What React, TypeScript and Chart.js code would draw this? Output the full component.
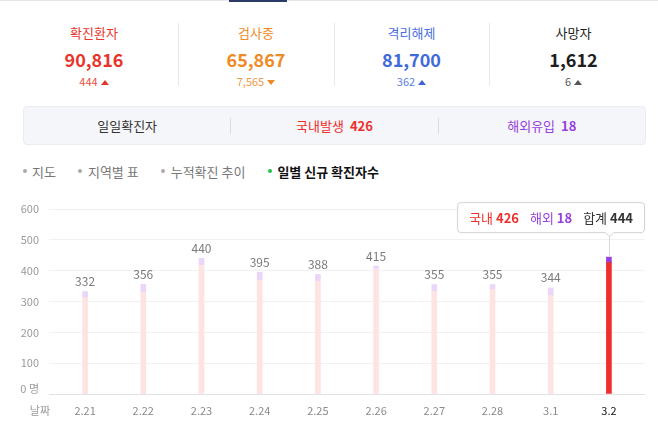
import React, { useEffect, useRef } from 'react';
import { Chart, registerables } from 'chart.js';
Chart.register(...registerables);

const KR = "'Noto Sans CJK KR', 'Noto Sans', sans-serif";

// ---- data ----
const statTitles = ['확진환자', '검사중', '격리해제', '사망자'];
const statValues = ['90,816', '65,867', '81,700', '1,612'];
const statDeltas = ['444', '7,565', '362', '6'];
const statUp = [true, false, true, true];

const dailyLabel = '일일확진자';
const domesticLabel = '국내발생';
const domesticToday = 426;
const overseasLabel = '해외유입';
const overseasToday = 18;

const navItems = ['지도', '지역별 표', '누적확진 추이', '일별 신규 확진자수'];

const dates = ['2.21', '2.22', '2.23', '2.24', '2.25', '2.26', '2.27', '2.28', '3.1', '3.2'];
const domestic = [313, 330, 417, 369, 366, 406, 333, 339, 320, 426];
const overseas = [19, 26, 23, 26, 22, 9, 22, 16, 24, 18];
const yMax = 600;
const yStep = 100;
const yUnit = '명';
const xAxisName = '날짜';
const tipNames = ['국내', '해외', '합계'];

// ---- styles ----
const RED = '#ee2f2c';
const PURPLE = '#9840dc';
const statColors = ['#e8352c', '#ef8a26', '#4169dc', '#1e1e1e'];
const statTitleColors = ['#e8352c', '#ef8a26', '#4a6fe0', '#222222'];
const deltaColors = ['#e8503f', '#f09a48', '#5b7fe2', '#555555'];
const triColors = ['#e0392b', '#ef8a26', '#3e64d8', '#555555'];

const lastIdx = dates.length - 1;

const labelPlugin = {
  id: 'totals',
  afterDatasetsDraw(chart: any) {
    const ctx = chart.ctx;
    const top = chart.getDatasetMeta(1);
    ctx.save();
    ctx.font = `12px ${KR}`;
    ctx.fillStyle = '#7a7a7a';
    ctx.textAlign = 'center';
    ctx.textBaseline = 'middle';
    top.data.forEach((el: any, i: number) => {
      if (i === lastIdx) return;
      ctx.fillText(String(domestic[i] + overseas[i]), el.x, el.y - 10);
    });
    // x axis name
    const xs = chart.scales.x;
    ctx.font = `11px ${KR}`;
    ctx.fillStyle = '#9a9a9a';
    ctx.textAlign = 'right';
    ctx.fillText(xAxisName, chart.chartArea.left + 1, xs.top + 10 + 6.6);
    ctx.restore();
  },
  afterDraw(chart: any) {
    const ctx = chart.ctx;
    const el = chart.getDatasetMeta(1).data[lastIdx];
    if (!el) return;
    const area = chart.chartArea;
    const parts = [
      { name: tipNames[0], val: String(domestic[lastIdx]), color: RED },
      { name: tipNames[1], val: String(overseas[lastIdx]), color: PURPLE },
      { name: tipNames[2], val: String(domestic[lastIdx] + overseas[lastIdx]), color: '#333333' },
    ];
    ctx.save();
    const nameFont = `13px ${KR}`;
    const valFont = `bold 13px ${KR}`;
    const gap = 11;
    const pad = 12;
    let w = 0;
    const widths = parts.map((p) => {
      ctx.font = nameFont;
      const a = ctx.measureText(p.name + ' ').width;
      ctx.font = valFont;
      const b = ctx.measureText(p.val).width;
      return [a, b];
    });
    widths.forEach(([a, b], i) => { w += a + b + (i ? gap : 0); });
    const boxW = w + pad * 2;
    const boxH = 31;
    const right = area.right;
    const left = right - boxW;
    const bottom = el.y - 24;
    const topY = bottom - boxH;
    // connecting line
    ctx.strokeStyle = '#d8d8e0';
    ctx.lineWidth = 1;
    ctx.beginPath();
    ctx.moveTo(Math.round(el.x) + 0.5, bottom + 3);
    ctx.lineTo(Math.round(el.x) + 0.5, el.y);
    ctx.stroke();
    // box with caret
    const r = 4;
    const cx = Math.round(el.x) + 0.5;
    ctx.beginPath();
    ctx.moveTo(left + r, topY + 0.5);
    ctx.lineTo(right - r, topY + 0.5);
    ctx.quadraticCurveTo(right - 0.5, topY + 0.5, right - 0.5, topY + r);
    ctx.lineTo(right - 0.5, bottom - r);
    ctx.quadraticCurveTo(right - 0.5, bottom - 0.5, right - r, bottom - 0.5);
    ctx.lineTo(cx + 4, bottom - 0.5);
    ctx.lineTo(cx, bottom + 3.5);
    ctx.lineTo(cx - 4, bottom - 0.5);
    ctx.lineTo(left + r, bottom - 0.5);
    ctx.quadraticCurveTo(left + 0.5, bottom - 0.5, left + 0.5, bottom - r);
    ctx.lineTo(left + 0.5, topY + r);
    ctx.quadraticCurveTo(left + 0.5, topY + 0.5, left + r, topY + 0.5);
    ctx.closePath();
    ctx.fillStyle = '#ffffff';
    ctx.shadowColor = 'rgba(0,0,0,0.06)';
    ctx.shadowBlur = 3;
    ctx.fill();
    ctx.shadowColor = 'transparent';
    ctx.strokeStyle = '#d4d4d4';
    ctx.stroke();
    // text
    let x = left + pad;
    const ty = (topY + bottom) / 2 + 0.5;
    ctx.textBaseline = 'middle';
    ctx.textAlign = 'left';
    parts.forEach((p, i) => {
      ctx.fillStyle = p.color;
      ctx.font = nameFont;
      ctx.fillText(p.name + ' ', x, ty);
      x += widths[i][0];
      ctx.font = valFont;
      ctx.fillText(p.val, x, ty);
      x += widths[i][1] + gap;
    });
    ctx.restore();
  },
};

function Tri({ up, color }: { up: boolean; color: string }) {
  return (
    <span
      style={{
        display: 'inline-block',
        width: 0,
        height: 0,
        borderLeft: '4px solid transparent',
        borderRight: '4px solid transparent',
        [up ? 'borderBottom' : 'borderTop']: `5px solid ${color}`,
        marginLeft: 3,
        verticalAlign: 'middle',
        position: 'relative',
        top: -1,
      } as any}
    />
  );
}

export default function App() {
  const ref = useRef<HTMLCanvasElement>(null);
  useEffect(() => {
    Chart.defaults.font.family = KR;
    const chart = new Chart(ref.current!, {
      type: 'bar',
      data: {
        datasets: [
          {
            label: domesticLabel,
            data: domestic.map((v, i) => ({ x: i, y: v })),
            backgroundColor: (c: any) => (c.dataIndex === lastIdx ? RED : '#fde3e1'),
            barThickness: 5,
            stack: 's',
          },
          {
            label: overseasLabel,
            data: overseas.map((v, i) => ({ x: i, y: v })),
            backgroundColor: (c: any) => (c.dataIndex === lastIdx ? PURPLE : '#ead6f8'),
            barThickness: 5,
            stack: 's',
          },
        ],
      } as any,
      options: {
        animation: false,
        responsive: true,
        maintainAspectRatio: false,
        layout: { padding: { top: 19, right: 13, left: 0, bottom: 0 } },
        plugins: { legend: { display: false }, tooltip: { enabled: false } },
        events: [],
        scales: {
          x: {
            type: 'linear',
            offset: false,
            stacked: true,
            min: -0.62,
            max: lastIdx + 0.62,
            grid: { display: false, drawTicks: false, offset: false },
            border: { display: false },
            afterBuildTicks: (axis: any) => {
              axis.ticks = dates.map((_, i) => ({ value: i }));
            },
            afterFit: (axis: any) => {
              axis.height = 43;
            },
            ticks: {
              padding: 10,
              autoSkip: false,
              maxRotation: 0,
              font: { size: 11 },
              color: (c: any) => (c.tick && c.tick.value === lastIdx ? '#111111' : '#8a8a8a'),
              callback: (v: any) => dates[v as number] ?? '',
            },
          },
          y: {
            stacked: true,
            min: 0,
            max: yMax,
            grid: {
              drawTicks: false,
              color: (c: any) => (c.tick && c.tick.value === 0 ? '#e2e2e2' : '#f1f1f1'),
            },
            border: { display: false },
            afterFit: (axis: any) => {
              axis.width = 49;
            },
            ticks: {
              stepSize: yStep,
              padding: 10,
              color: '#9a9a9a',
              font: (c: any) =>
                c.tick && c.tick.value === 0 ? { size: 11, lineHeight: 0.9 } : { size: 11 },
              callback: (v: any) => (v === 0 ? [`0 ${yUnit}`, ''] : String(v)),
            },
          },
        },
      } as any,
      plugins: [labelPlugin],
    });
    return () => chart.destroy();
  }, []);

  const colLeft = [10, 178, 334, 489];
  const colWidth = [168, 156, 155, 169];

  return (
    <div
      style={{
        position: 'absolute',
        left: 0,
        top: 0,
        width: 658,
        height: 437,
        overflow: 'hidden',
        background: '#ffffff',
        fontFamily: KR,
      }}
    >
      <div style={{ position: 'absolute', left: 0, top: 0, width: 658, height: 1, background: '#e6e6e6' }} />
      <div style={{ position: 'absolute', left: 229, top: 0, width: 58, height: 2, background: '#2b3a67' }} />

      {statTitles.map((t, i) => (
        <div key={t} style={{ position: 'absolute', left: colLeft[i], top: 0, width: colWidth[i], height: 100, textAlign: 'center' }}>
          <div style={{ position: 'absolute', left: 0, right: 0, top: 22, height: 22, lineHeight: '22px', fontSize: 13, color: statTitleColors[i] }}>{t}</div>
          <div style={{ position: 'absolute', left: 0, right: 0, top: 47, height: 24, lineHeight: '24px', fontSize: 18, fontWeight: 700, color: statColors[i] }}>{statValues[i]}</div>
          <div style={{ position: 'absolute', left: 0, right: 0, top: 74, height: 14, lineHeight: '14px', fontSize: 11, color: deltaColors[i] }}>
            {statDeltas[i]}
            <Tri up={statUp[i]} color={triColors[i]} />
          </div>
        </div>
      ))}
      {[178, 334, 489].map((x) => (
        <div key={x} style={{ position: 'absolute', left: x, top: 23, width: 1, height: 63, background: '#e8e8e8' }} />
      ))}

      <div
        style={{
          position: 'absolute',
          left: 23,
          top: 106,
          width: 621,
          height: 37,
          background: '#f5f6f9',
          border: '1px solid #eaecf0',
          borderRadius: 4,
          display: 'flex',
          alignItems: 'center',
          fontSize: 13,
        }}
      >
        <div style={{ flex: 1, textAlign: 'center', color: '#333' }}>{dailyLabel}</div>
        <div style={{ width: 1, height: 16, background: '#dcdcdc' }} />
        <div style={{ flex: 1, textAlign: 'center', color: RED }}>
          {domesticLabel}
          <b style={{ marginLeft: 6 }}>{domesticToday}</b>
        </div>
        <div style={{ width: 1, height: 16, background: '#dcdcdc' }} />
        <div style={{ flex: 1, textAlign: 'center', color: PURPLE }}>
          {overseasLabel}
          <b style={{ marginLeft: 6 }}>{overseasToday}</b>
        </div>
      </div>

      <div style={{ position: 'absolute', left: 22.5, top: 160, height: 22, display: 'flex', alignItems: 'center', fontSize: 13 }}>
        {navItems.map((n, i) => {
          const active = i === navItems.length - 1;
          return (
            <div key={n} style={{ display: 'flex', alignItems: 'center', marginRight: 22.5 }}>
              <span style={{ width: 4, height: 4, borderRadius: 2, background: active ? '#22c04b' : '#aaaaaa', marginRight: 5.5 }} />
              <span style={{ color: active ? '#111' : '#777', fontWeight: active ? 700 : 400 }}>{n}</span>
            </div>
          );
        })}
      </div>

      <div style={{ position: 'absolute', left: 0, top: 190, width: 658, height: 247 }}>
        <canvas ref={ref} />
      </div>
    </div>
  );
}
